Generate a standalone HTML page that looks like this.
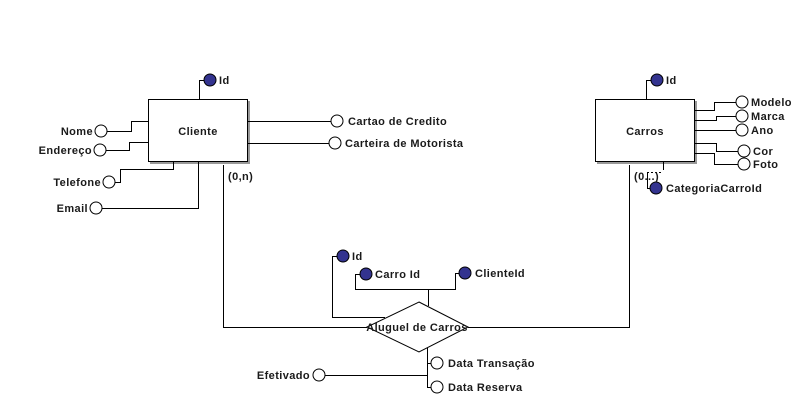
<!DOCTYPE html>
<html><head><meta charset="utf-8"><style>
html,body{margin:0;padding:0;background:#fff;width:804px;height:402px;overflow:hidden}
text{font-family:"Liberation Sans","DejaVu Sans",sans-serif;font-size:11px;font-weight:bold;fill:#1a1a1a;letter-spacing:0.4px}
</style></head><body>
<svg width="804" height="402" xmlns="http://www.w3.org/2000/svg">
<g stroke="#000" stroke-width="1" fill="none" shape-rendering="crispEdges">
<rect x="150" y="101" width="100" height="63" fill="#999" stroke="none"/>
<rect x="148.5" y="99.5" width="99" height="62" fill="#fff"/>
<rect x="597" y="101" width="100" height="63" fill="#999" stroke="none"/>
<rect x="595.5" y="99.5" width="99" height="62" fill="#fff"/>
<polyline points="199.5,99 199.5,80.5 204,80.5"/>
<polyline points="148,121.5 131.5,121.5 131.5,131.5 107,131.5"/>
<polyline points="148,142.5 129.5,142.5 129.5,150.5 106,150.5"/>
<polyline points="173.5,162 173.5,169.5 120.5,169.5 120.5,182.5 115,182.5"/>
<polyline points="198.5,162 198.5,208.5 102,208.5"/>
<line x1="248" y1="121.5" x2="331" y2="121.5"/>
<line x1="248" y1="143.5" x2="329" y2="143.5"/>
<polyline points="223.5,165 223.5,327.5 367,327.5"/>
<polyline points="468,327.5 629.5,327.5 629.5,165"/>
<polyline points="646.5,99 646.5,80.5 651,80.5"/>
<polyline points="695,110.5 714.5,110.5 714.5,102.5 736,102.5"/>
<polyline points="695,120.5 716.5,120.5 716.5,116.5 736,116.5"/>
<line x1="695" y1="130.5" x2="736" y2="130.5"/>
<polyline points="695,143.5 716.5,143.5 716.5,151.5 738,151.5"/>
<polyline points="695,153.5 714.5,153.5 714.5,164.5 738,164.5"/>
<polyline points="663.5,162 663.5,170"/>
<line x1="647" y1="172.5" x2="663" y2="172.5" stroke-dasharray="2,2"/>
<polyline points="647.5,172 647.5,188.5 650,188.5"/>
<polyline points="337,256.5 332.5,256.5 332.5,317.5 385,317.5"/>
<polyline points="360,274.5 355.5,274.5 355.5,289.5 455.5,289.5 455.5,273.5 459,273.5"/>
<line x1="428.5" y1="289" x2="428.5" y2="306"/>
<polyline points="427.5,347 427.5,387.5 431,387.5"/>
<line x1="427" y1="363.5" x2="431" y2="363.5"/>
<line x1="325" y1="375.5" x2="427" y2="375.5"/>
</g>
<polygon points="419,302 468,327 419,352 367,327" fill="#fff" stroke="#000" stroke-width="1"/>
<g stroke="#000" stroke-width="1" fill="#fff">
<circle cx="101" cy="131" r="6"/>
<circle cx="100" cy="150" r="6"/>
<circle cx="109" cy="182" r="6"/>
<circle cx="96" cy="208" r="6"/>
<circle cx="337" cy="121" r="6"/>
<circle cx="335" cy="143" r="6"/>
<circle cx="742" cy="102" r="6"/>
<circle cx="742" cy="116" r="6"/>
<circle cx="742" cy="130" r="6"/>
<circle cx="744" cy="151" r="6"/>
<circle cx="744" cy="164" r="6"/>
<circle cx="437" cy="363" r="6"/>
<circle cx="437" cy="387" r="6"/>
<circle cx="319" cy="375" r="6"/>
</g>
<g stroke="#000" stroke-width="1" fill="#33338f">
<circle cx="210" cy="80" r="6"/>
<circle cx="657" cy="80" r="6"/>
<circle cx="656" cy="188" r="6"/>
<circle cx="343" cy="256" r="6"/>
<circle cx="366" cy="274" r="6"/>
<circle cx="465" cy="273" r="6"/>
</g>
<text x="219" y="84">Id</text>
<text x="666" y="84">Id</text>
<text x="198" y="135" text-anchor="middle">Cliente</text>
<text x="645" y="135" text-anchor="middle">Carros</text>
<text x="93" y="135" text-anchor="end">Nome</text>
<text x="92" y="154" text-anchor="end">Endereço</text>
<text x="101" y="186" text-anchor="end">Telefone</text>
<text x="88" y="212" text-anchor="end">Email</text>
<text x="348" y="125">Cartao de Credito</text>
<text x="345" y="147">Carteira de Motorista</text>
<text x="228" y="180">(0,n)</text>
<text x="634" y="180">(0...)</text>
<text x="751" y="106">Modelo</text>
<text x="751" y="120">Marca</text>
<text x="751" y="134">Ano</text>
<text x="753" y="155">Cor</text>
<text x="753" y="168">Foto</text>
<text x="666" y="192">CategoriaCarroId</text>
<text x="352" y="260">Id</text>
<text x="375" y="278">Carro Id</text>
<text x="475" y="277">ClienteId</text>
<text x="417" y="331" text-anchor="middle">Aluguel de Carros</text>
<text x="448" y="367">Data Transação</text>
<text x="448" y="391">Data Reserva</text>
<text x="310" y="379" text-anchor="end">Efetivado</text>
</svg>
</body></html>
